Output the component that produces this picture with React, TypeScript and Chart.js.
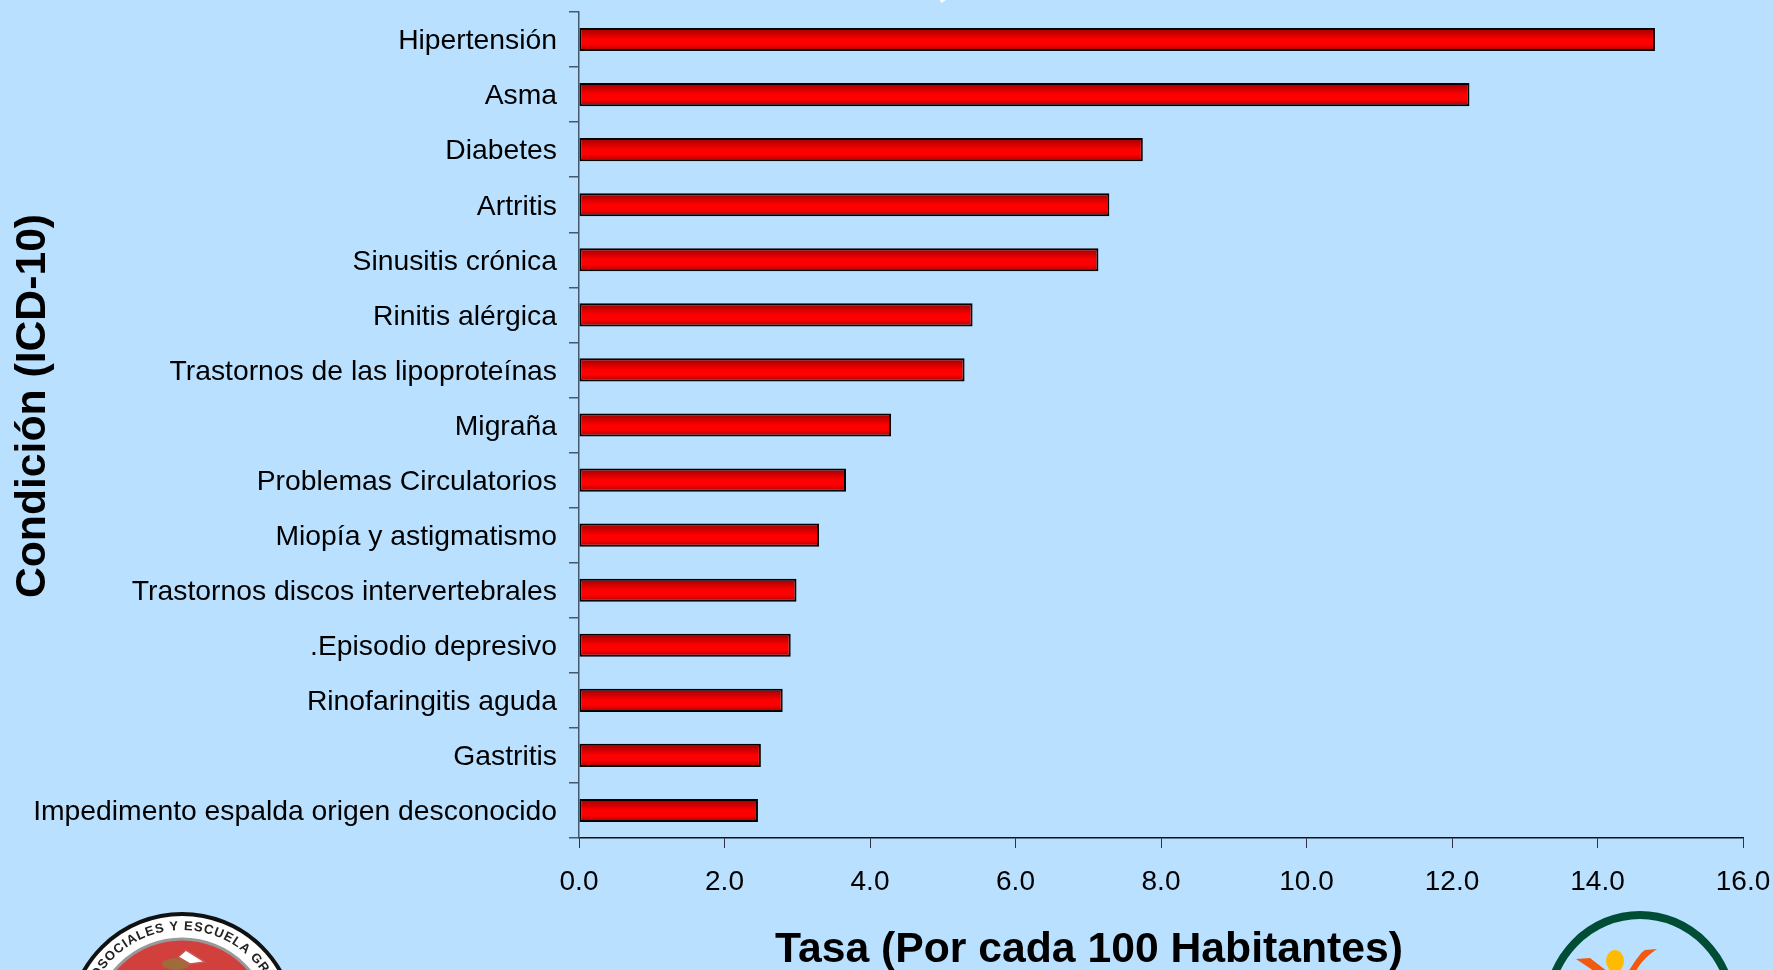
import React, { useEffect, useRef } from "react";
import { Chart, registerables } from "chart.js";

Chart.register(...registerables);

const categories = [
  "Hipertensión", "Asma", "Diabetes", "Artritis", "Sinusitis crónica", "Rinitis alérgica",
  "Trastornos de las lipoproteínas", "Migraña", "Problemas Circulatorios", "Miopía y astigmatismo",
  "Trastornos discos intervertebrales", ".Episodio depresivo", "Rinofaringitis aguda", "Gastritis",
  "Impedimento espalda origen desconocido",
];
const rates = [14.79, 12.24, 7.75, 7.29, 7.14, 5.41, 5.30, 4.29, 3.67, 3.30, 2.99, 2.91, 2.80, 2.50, 2.46];
const xTitle = "Tasa (Por cada 100 Habitantes)";
const yTitle = "Condición (ICD-10)";
const BG = "#B9E1FF";
const FONT = "'Liberation Sans', Arial, sans-serif";

const titlesPlugin = {
  id: "offsetTitles",
  afterDraw(chart: any) {
    const { ctx } = chart;
    ctx.save();
    ctx.fillStyle = "#000";
    ctx.font = `bold 42.7px ${FONT}`;
    ctx.textAlign = "center";
    ctx.textBaseline = "middle";
    ctx.fillText(xTitle, 1089, 950);
    ctx.translate(33, 406);
    ctx.rotate(-Math.PI / 2);
    ctx.fillText(yTitle, 0, 0);
    ctx.restore();
  },
};

const clearScalePadding = (s: any) => {
  s.paddingTop = 0;
  s.paddingBottom = 0;
  s.paddingLeft = 0;
  s.paddingRight = 0;
};

// nudges the category labels down a little, as in the reference
const shiftLabels = (s: any, dy: number) => {
  if (s.__shifted) return;
  s.__shifted = true;
  const orig = s._computeLabelItems;
  s._computeLabelItems = function (area: any) {
    return orig.call(s, area).map((it: any) => ({
      ...it,
      options: { ...it.options, translation: [it.options.translation[0], it.options.translation[1] + dy] },
    }));
  };
};

export default function App() {
  const ref = useRef<HTMLCanvasElement>(null);
  useEffect(() => {
    document.body.style.margin = "0";
    document.body.style.background = BG;
    document.body.style.overflow = "hidden";
    const chart = new Chart(ref.current!, {
      type: "bar",
      data: {
        labels: categories,
        datasets: [{
          data: rates,
          borderColor: "#000",
          borderWidth: 2,
          borderSkipped: false,
          barPercentage: 0.42,
          categoryPercentage: 1,
          backgroundColor: (c: any) => {
            const { chart: ch, dataIndex } = c;
            const sy = ch.scales?.y;
            if (!sy || dataIndex === undefined) return "#f00";
            const mid = sy.getPixelForValue(dataIndex);
            if (!Number.isFinite(mid)) return "#f00";
            const g = ch.ctx.createLinearGradient(0, mid - 11, 0, mid + 11);
            g.addColorStop(0, "#a00000");
            g.addColorStop(0.5, "#ff0000");
            g.addColorStop(0.72, "#ff0000");
            g.addColorStop(1, "#b00000");
            return g;
          },
        }],
      },
      options: {
        indexAxis: "y",
        animation: false,
        responsive: false,
        layout: { padding: { top: 12, right: 30, left: 0, bottom: 0 } },
        plugins: { legend: { display: false }, tooltip: { enabled: false } },
        scales: {
          x: {
            min: 0, max: 16,
            ticks: {
              stepSize: 2,
              padding: 17,
              color: "#000",
              maxRotation: 0,
              font: { family: FONT, size: 28 },
              callback: (v: any) => Number(v).toFixed(1),
            },
            grid: { drawOnChartArea: false, drawTicks: true, tickLength: 10, color: "#334", lineWidth: 1 },
            border: { color: "#111", width: 1.5 },
            afterFit: (s: any) => { s.height = 132; clearScalePadding(s); },
          },
          y: {
            ticks: {
              padding: 12,
              color: "#000",
              autoSkip: false,
              font: { family: FONT, size: 28.3 },
            },
            grid: { drawOnChartArea: false, offset: true, tickLength: 10, color: "#44596b", lineWidth: 1.5 },
            border: { color: "#44596b", width: 1.5 },
            afterFit: (s: any) => { s.width = 579; clearScalePadding(s); shiftLabels(s, 2); },
          },
        },
      },
      plugins: [titlesPlugin],
    } as any);
    return () => chart.destroy();
  }, []);

  return (
    <div style={{ position: "fixed", inset: 0, width: 1773, height: 970, background: BG, overflow: "hidden" }}>
      <canvas ref={ref} width={1773} height={970} style={{ display: "block" }} />
      <svg width={1773} height={970} style={{ position: "absolute", left: 0, top: 0, pointerEvents: "none" }}>
        <defs>
          <path id="sealText" d="M 85 1027 A 97 97 0 0 1 279 1027" />
        </defs>
        <circle cx={182} cy={1027} r={113} fill="#fff" stroke="#111" strokeWidth={4} />
        <circle cx={182} cy={1027} r={88} fill="#D2403D" stroke="#999" strokeWidth={3} />
        <text fontFamily={FONT} fontWeight="bold" fontSize={13} fill="#222" letterSpacing={1}>
          <textPath href="#sealText" startOffset="50%" textAnchor="middle">CIOSOCIALES Y ESCUELA GRAD</textPath>
        </text>
        <ellipse cx={176} cy={964} rx={14} ry={6} fill="#A06A3A" />
        <path d="M 178 957 L 186 950 L 205 962 L 190 964 Z" fill="#fff" stroke="#c55" strokeWidth={1.5} />
        <ellipse cx={1640} cy={1012} rx={93} ry={97} fill="none" stroke="#004D35" strokeWidth={8} />
        <path d="M 1576 959 L 1590 958 L 1612 975 L 1600 975 Z" fill="#F15A0E" />
        <path d="M 1626 975 C 1636 960 1640 953 1645 950 L 1657 949 C 1645 957 1638 966 1634 975 Z" fill="#F15A0E" />
        <ellipse cx={1615} cy={961} rx={9} ry={11} fill="#FFBB00" />
        <path d="M 940 0 L 946 0 L 941 3 Z" fill="#fff" />
      </svg>
    </div>
  );
}
